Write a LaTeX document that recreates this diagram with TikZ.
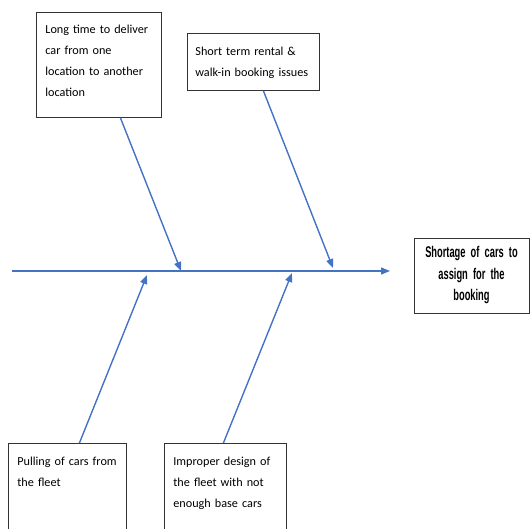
\documentclass[tikz,border=0pt]{standalone}
\usepackage{fontspec}
\setmainfont{Carlito}
\newfontfamily\effectfont[FakeStretch=0.6]{Liberation Sans}
\usetikzlibrary{arrows.meta}

\definecolor{bone}{HTML}{4472C4}

\begin{document}
\begin{tikzpicture}[x=1pt, y=-1pt,
  cause/.style={draw=black!80, line width=0.8pt, anchor=north west, align=left,
    inner xsep=9pt, inner ysep=0pt, text height=21pt,
    font=\fontsize{12.2pt}{21pt}\selectfont},
  effect/.style={draw=black!80, line width=0.8pt, align=center,
    minimum width=115pt, minimum height=75pt, inner sep=2pt, text width=108pt,
    font=\effectfont\bfseries\fontsize{15.5pt}{21.5pt}\selectfont},
  bonearrow/.style={bone, line width=1.4pt, -{Triangle[length=9pt, width=7pt]}}]

  \useasboundingbox (0,0) rectangle (530,529);

  % spine and effect
  \coordinate (tail) at (12,271);
  \coordinate (head) at (390,271);
  \draw[bonearrow] (tail) -- (head);
  \node[effect] (eff) at (471.5,275.5) {Shortage of cars to\\assign for the\\booking};

  % causes above the spine
  \node[cause, minimum width=125pt, text width=107pt, text depth=84pt] (c1) at (36,12)
    {Long time to deliver\\car from one\\location to another\\location};
  \node[cause, minimum width=132pt, text width=116pt, text height=22pt, text depth=35pt,
    inner xsep=8pt] (c2) at (187,33)
    {Short term rental \&\\walk-in booking issues};

  % causes below the spine
  \node[cause, minimum width=118pt, text width=104pt, inner xsep=7pt, text height=22pt, text depth=110pt] (c3) at (8,443)
    {\hspace*{2pt}Pulling of cars from\\\hspace*{2pt}the fleet};
  \node[cause, minimum width=122pt, text width=104pt, text height=22pt, text depth=110pt] (c4) at (164,443)
    {Improper design of\\the fleet with not\\enough base cars};

  % points where the bones meet the spine
  \coordinate (m1) at (181,271);
  \coordinate (m2) at (333,268);
  \coordinate (m3) at (147,275);
  \coordinate (m4) at (292,273);

  \draw[bonearrow] ([xshift=21.5pt]c1.south) -- (m1);
  \draw[bonearrow] ([xshift=10pt]c2.south) -- (m2);
  \draw[bonearrow] ([xshift=12pt]c3.north) -- (m3);
  \draw[bonearrow] ([xshift=-2pt]c4.north) -- (m4);
\end{tikzpicture}
\end{document}
